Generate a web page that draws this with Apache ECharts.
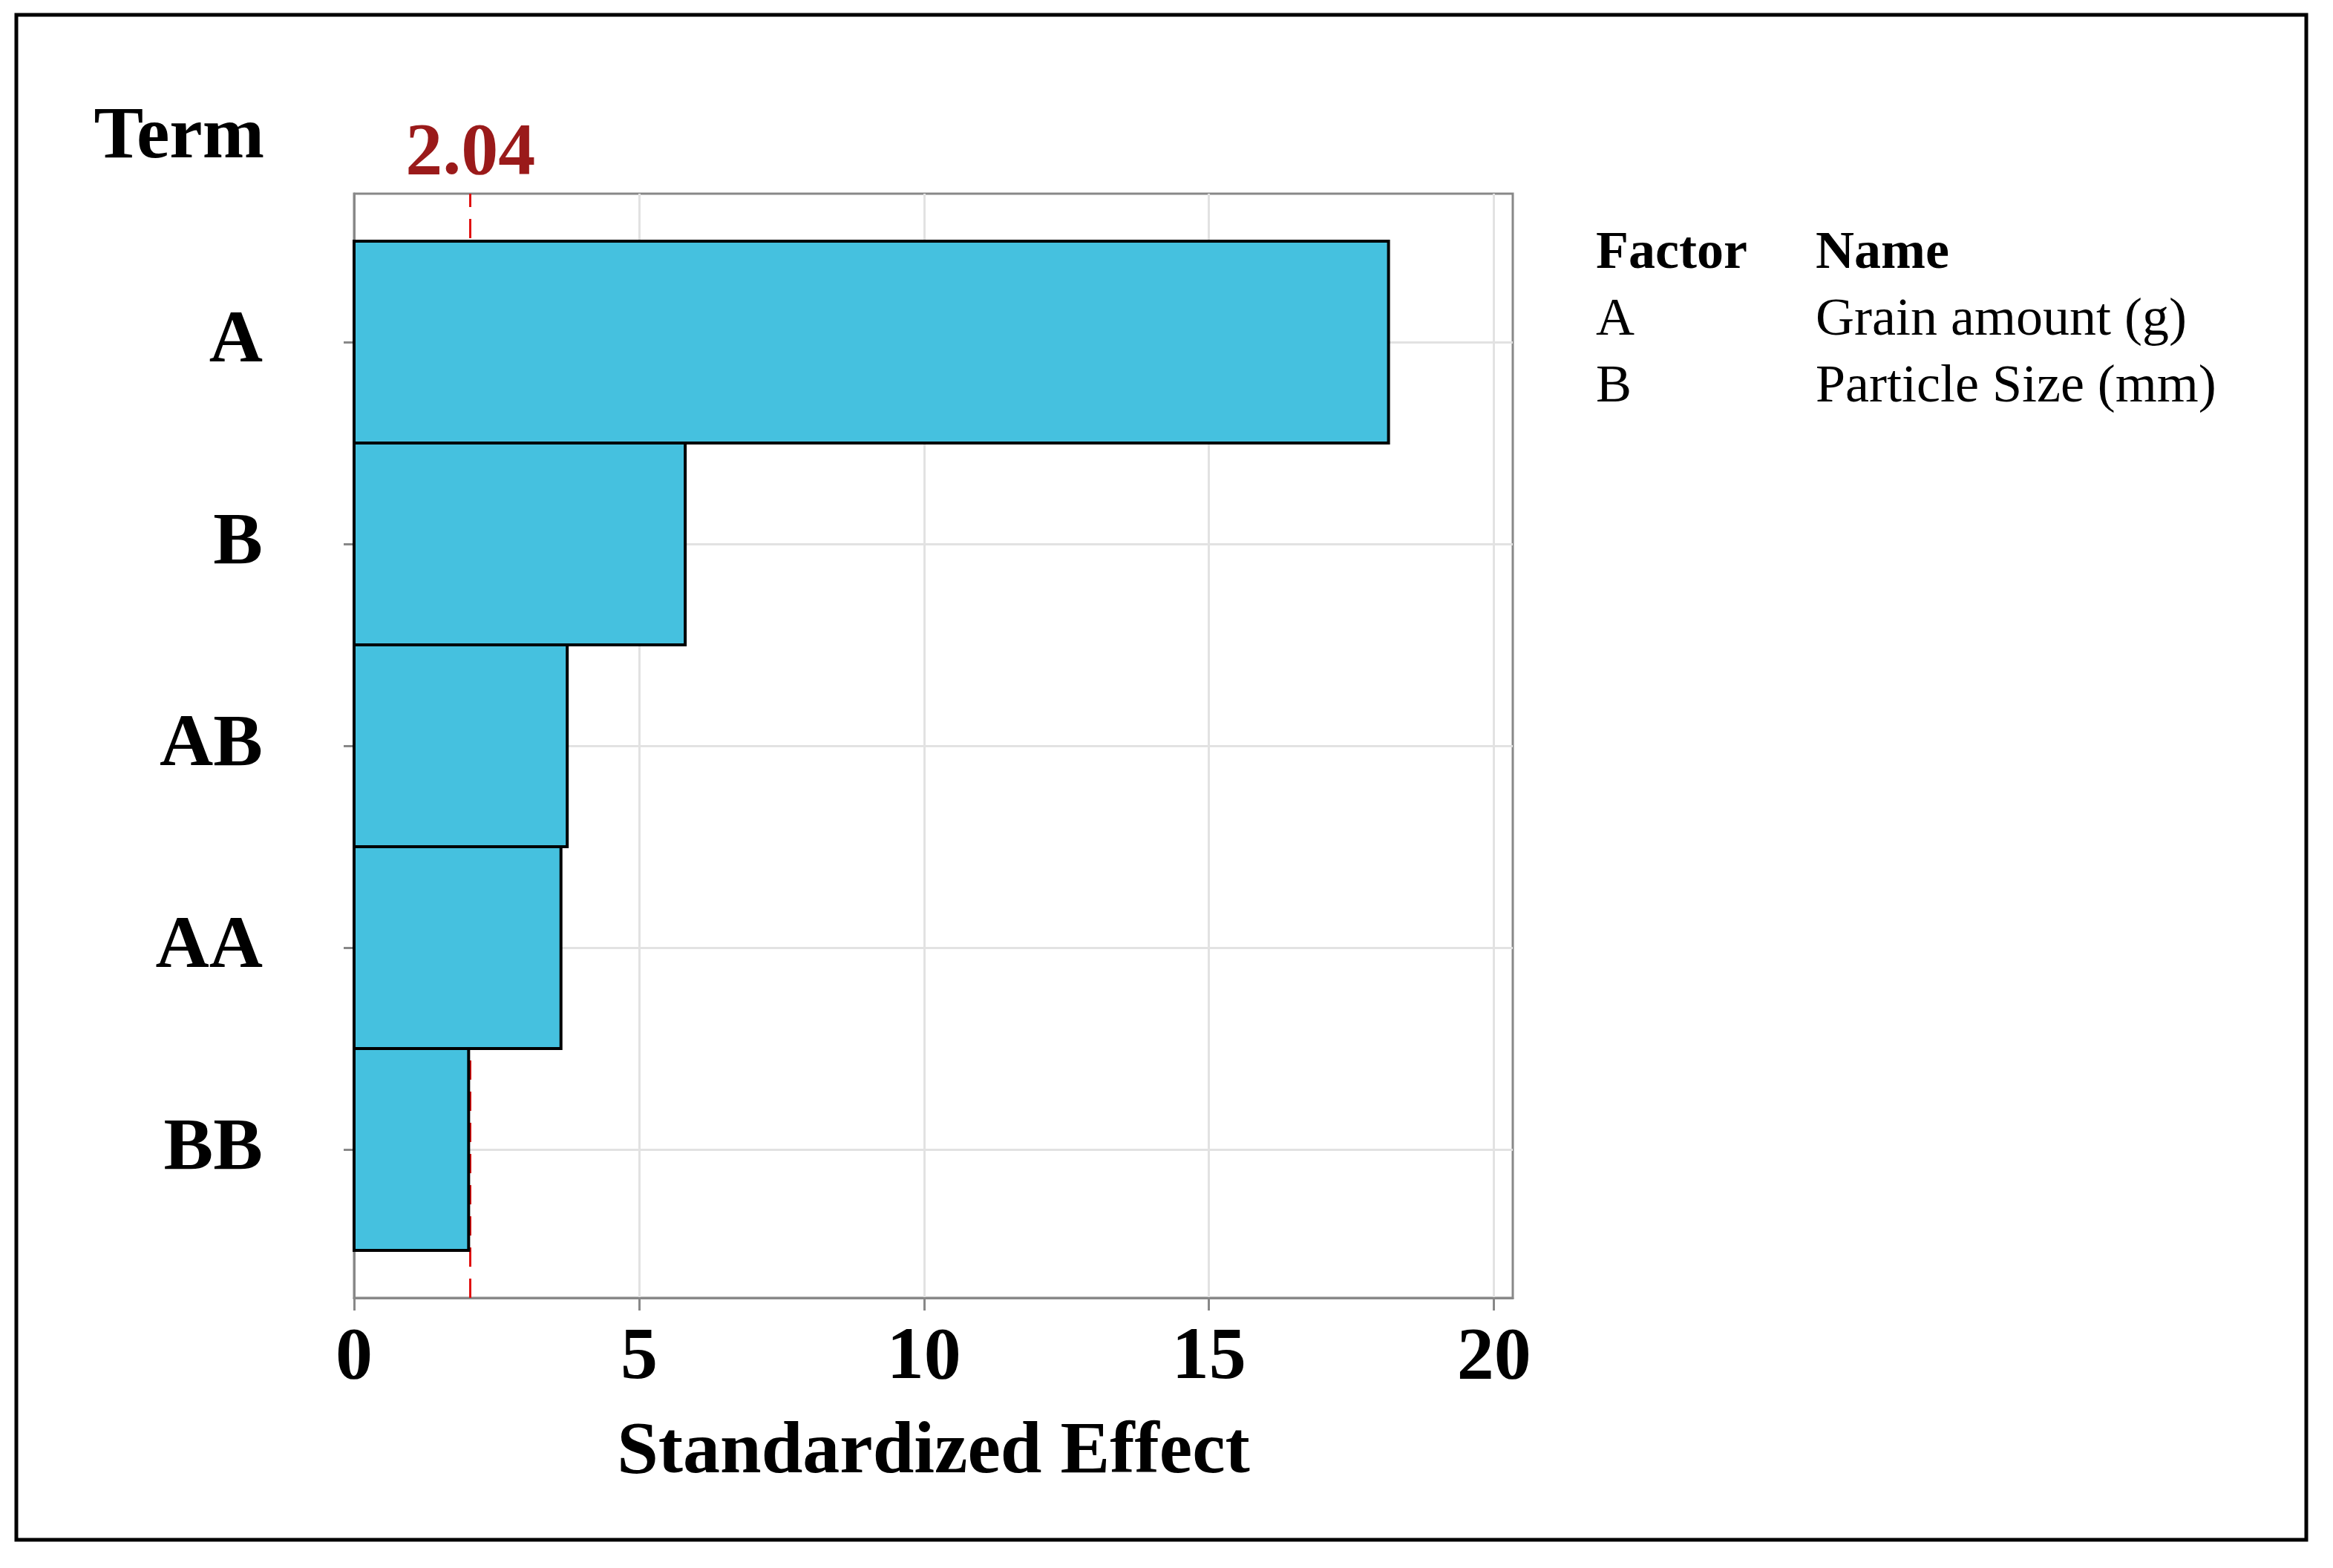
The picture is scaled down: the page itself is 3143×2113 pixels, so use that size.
<!DOCTYPE html>
<html>
<head>
<meta charset="utf-8">
<script src="https://cdn.jsdelivr.net/npm/echarts@6/dist/echarts.min.js"></script>
<style>
html,body{margin:0;padding:0;background:#fff;}
#chart{width:3143px;height:2113px;}
</style>
</head>
<body>
<div id="chart"></div>
<script>
// ---- data ----
const terms = ['A', 'B', 'AB', 'AA', 'BB'];
const effects = [18.15, 5.81, 3.74, 3.63, 2.01];
const refValue = 2.04;
const xTicks = [0, 5, 10, 15, 20];
const factorCodes = ['A', 'B'];
const factorNames = ['Grain amount (g)', 'Particle Size (mm)'];
const tableHeader = ['Factor', 'Name'];

// ---- style ----
const FONT = "'Liberation Serif', 'Times New Roman', serif";
const AXIS_GRAY = '#888888';
const GRID_GRAY = '#e2e2e2';
const BAR_FILL = '#45C1DF';

const termPos = terms.map((t, i) => i + 1);
const yMin = 0.265, yMax = terms.length + 0.735;

const chart = echarts.init(document.getElementById('chart'));

const graphics = [
  { type: 'rect', shape: { x: 22, y: 20, width: 3085, height: 2055 },
    style: { fill: 'none', stroke: '#000', lineWidth: 5 }, silent: true },
  { type: 'text', right: 2787, top: 136,
    style: { text: 'Term', font: "bold 100px " + FONT, fill: '#000', align: 'right' } },
  { type: 'text', left: 2150, top: 306,
    style: { text: tableHeader[0], font: "bold 72px " + FONT, fill: '#000' } },
  { type: 'text', left: 2446, top: 306,
    style: { text: tableHeader[1], font: "bold 72px " + FONT, fill: '#000' } }
];
factorCodes.forEach((c, i) => {
  graphics.push({ type: 'text', left: 2150, top: 396 + i * 90,
    style: { text: c, font: "72px " + FONT, fill: '#000' } });
  graphics.push({ type: 'text', left: 2446, top: 396 + i * 90,
    style: { text: factorNames[i], font: "72px " + FONT, fill: '#000' } });
});

const option = {
  animation: false,
  backgroundColor: '#fff',
  graphic: graphics,
  grid: { left: 477, right: 1105, top: 261, bottom: 364, show: true,
          borderColor: AXIS_GRAY, borderWidth: 3, backgroundColor: 'transparent' },
  xAxis: {
    type: 'value', min: 0, max: 20.33,
    name: 'Standardized Effect', nameLocation: 'middle', nameGap: 159,
    nameTextStyle: { fontFamily: FONT, fontWeight: 'bold', fontSize: 100, color: '#000' },
    axisLine: { show: true, lineStyle: { color: AXIS_GRAY, width: 3 } },
    axisTick: { show: true, length: 17, lineStyle: { color: AXIS_GRAY, width: 3 }, customValues: xTicks },
    axisLabel: { customValues: xTicks, margin: 32, fontFamily: FONT, fontWeight: 'bold', fontSize: 100, color: '#000' },
    splitLine: { show: true, lineStyle: { color: GRID_GRAY, width: 3 } }
  },
  yAxis: {
    type: 'value', inverse: true, min: yMin, max: yMax,
    axisLine: { show: true, lineStyle: { color: AXIS_GRAY, width: 3 } },
    axisTick: { show: true, length: 14, lineStyle: { color: AXIS_GRAY, width: 3 }, customValues: termPos },
    axisLabel: { customValues: termPos, margin: 123, padding: [14, 0, 0, 0],
      fontFamily: FONT, fontWeight: 'bold', fontSize: 100, color: '#000',
      formatter: v => terms[Math.round(v) - 1] || '' },
    splitLine: { show: false }
  },
  series: [
    {
      type: 'line', data: [], z: 1, silent: true,
      markLine: {
        z: 1, silent: true, symbol: 'none', animation: false,
        label: { show: false },
        lineStyle: { color: GRID_GRAY, width: 3, type: 'solid' },
        data: termPos.map(p => ({ yAxis: p }))
      }
    },
    {
      type: 'line', data: [], z: 1, silent: true,
      markLine: {
        z: 1, silent: true, symbol: 'none', animation: false,
        lineStyle: { color: '#e01010', width: 3, type: [26, 16] },
        label: { show: true, position: 'end', formatter: String(refValue), distance: 3,
                 fontFamily: FONT, fontWeight: 'bold', fontSize: 100, color: '#9a1a1a' },
        data: [[{ coord: [refValue, yMax] }, { coord: [refValue, yMin] }]]
      }
    },
    {
      type: 'custom', z: 10,
      data: effects.map((v, i) => [v, termPos[i]]),
      encode: { x: 0, y: 1 },
      renderItem: function (params, api) {
        const v = api.value(0), c = api.value(1);
        const p0 = api.coord([0, c]);
        const p1 = api.coord([v, c]);
        const h = api.size([0, 1])[1];
        return { type: 'rect',
          shape: { x: p0[0], y: p0[1] - h / 2, width: p1[0] - p0[0], height: h },
          style: { fill: BAR_FILL, stroke: '#000', lineWidth: 4 } };
      }
    }
  ]
};
chart.setOption(option);
</script>
</body>
</html>
